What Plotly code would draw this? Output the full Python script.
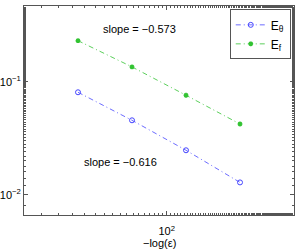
import plotly.graph_objects as go
import math

# data
x_vals = [32, 64, 128, 256]
e_theta = [0.0806, 0.0456, 0.0248, 0.0129]
e_f = [0.230, 0.135, 0.0759, 0.0423]
series_names = ["E<sub>θ</sub>", "E<sub>f</sub>"]
slope_labels = ["slope = \u22120.573", "slope = \u22120.616"]
x_tickvals = [100]
x_ticktext = ["10<sup>2</sup>"]
y_tickvals = [0.01, 0.1]
y_ticktext = ["10<sup>\u22122</sup>", "10<sup>\u22121</sup>"]
x_label = "\u2212log(\u03b5)"

FONT = "Liberation Sans, Arial, sans-serif"
BLUE = "rgb(70,70,255)"
GREEN = "rgb(50,195,50)"

fig = go.Figure()
fig.add_trace(go.Scatter(
    x=x_vals, y=e_theta, name=series_names[0], mode="lines+markers",
    line=dict(color=BLUE, width=0.8, dash="5px,3px,1px,3px"),
    marker=dict(symbol="circle-open", size=5, color=BLUE, line=dict(width=1)),
))
fig.add_trace(go.Scatter(
    x=x_vals, y=e_f, name=series_names[1], mode="lines+markers",
    line=dict(color=GREEN, width=0.8, dash="5px,3px,1px,3px"),
    marker=dict(symbol="asterisk-open", size=4, color=GREEN, line=dict(width=1.5)),
))

fig.add_annotation(x=math.log10(x_vals[1]) + 0.04, y=math.log10(e_f[0]) + 0.10, text=slope_labels[0],
                   xref="x", yref="y", showarrow=False, xanchor="center", yanchor="middle",
                   font=dict(family=FONT, size=11, color="black"))
fig.add_annotation(x=math.log10(x_vals[0]) + 0.022, y=math.log10(e_theta[3]) + 0.18, text=slope_labels[1],
                   xref="x", yref="y", showarrow=False, xanchor="left", yanchor="middle",
                   font=dict(family=FONT, size=11, color="black"))
fig.add_annotation(x=0.5, y=-0.134, xref="paper", yref="paper", text=x_label, showarrow=False,
                   xanchor="center", yanchor="middle", font=dict(family=FONT, size=11, color="black"))

axis_common = dict(
    showgrid=False, zeroline=False, showline=True, linecolor="#555", linewidth=1,
    mirror="allticks", ticks="inside", ticklen=4, tickcolor="#555", automargin=False,
    tickfont=dict(family=FONT, size=11, color="black"),
    minor=dict(ticks="inside", ticklen=2, tickcolor="#555", showgrid=False),
)

fig.update_xaxes(type="log", range=[math.log10(16), math.log10(512)],
                 tickvals=x_tickvals, ticktext=x_ticktext, ticklabelstandoff=6,
                 **axis_common)
fig.update_yaxes(type="log", range=[-2.177, -0.332],
                 tickvals=y_tickvals, ticktext=y_ticktext, **axis_common)

fig.update_layout(
    width=299, height=249,
    margin=dict(l=24, r=5, t=6, b=34, autoexpand=False),
    paper_bgcolor="white", plot_bgcolor="white",
    font=dict(family=FONT, size=11, color="black"),
    legend=dict(x=0.988, y=0.984, xanchor="right", yanchor="top",
                bordercolor="#555", borderwidth=1, bgcolor="white",
                font=dict(family=FONT, size=12, color="black"),
                itemwidth=30, tracegroupgap=0),
    showlegend=True,
)

fig.write_html("out.html", config={"displayModeBar": False},
               post_script="document.body.style.margin='0';document.body.style.overflow='hidden';")
